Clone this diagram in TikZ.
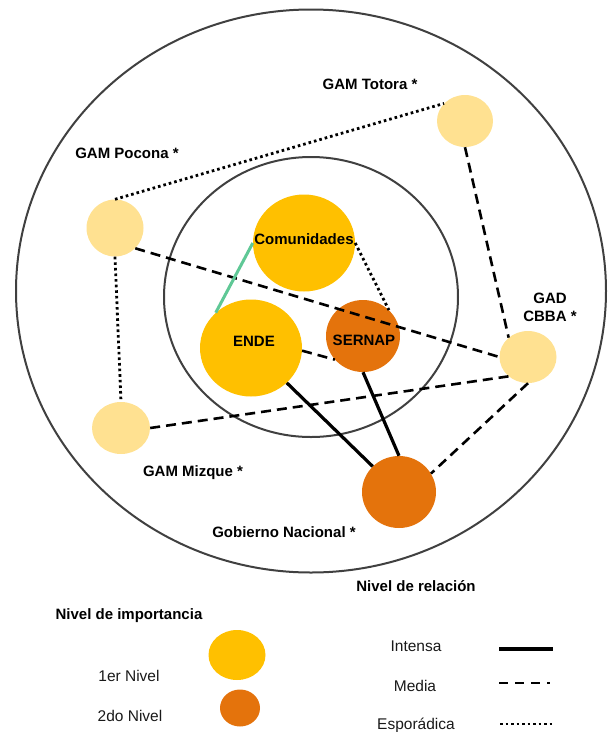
\documentclass[tikz,border=0pt]{standalone}
\usepackage{fontspec}
\setmainfont{Liberation Sans}
\usetikzlibrary{shapes.geometric}
\definecolor{lvone}{RGB}{255,192,0}
\definecolor{lvtwo}{RGB}{228,115,12}
\definecolor{lvthree}{RGB}{255,225,145}
\definecolor{ringc}{RGB}{64,64,64}
\definecolor{greenc}{RGB}{95,200,150}
\tikzset{
  actor/.style={ellipse, draw=none, inner sep=0pt},
  first/.style={actor, fill=lvone},
  second/.style={actor, fill=lvtwo},
  third/.style={actor, fill=lvthree},
  ring/.style={ellipse, draw=ringc, line width=2pt, inner sep=0pt},
  lbl/.style={font=\bfseries\fontsize{15}{18}\selectfont, inner sep=0pt, align=center, text=black},
  leg/.style={font=\fontsize{15.5}{18}\selectfont, inner sep=0pt, text=black!90},
  strong/.style={line width=3.2pt, black},
  mid/.style={line width=2.6pt, black, dash pattern=on 10pt off 6pt},
  spor/.style={line width=2.8pt, black, dash pattern=on 2.6pt off 3pt},
}
\begin{document}
\begin{tikzpicture}[x=1pt,y=-1pt]
\useasboundingbox (0,0) rectangle (613,732);
% rings
\node[ring, minimum width=590pt, minimum height=563pt] (outer) at (311,291) {};
\node[ring, minimum width=294pt, minimum height=280pt] (inner) at (311,297) {};
% actors
\node[third, minimum width=56pt, minimum height=52pt] (totora) at (465,121) {};
\node[third, minimum width=57pt, minimum height=57pt] (pocona) at (115,228) {};
\node[third, minimum width=57pt, minimum height=52pt] (gad) at (528,357) {};
\node[third, minimum width=58pt, minimum height=52pt] (mizque) at (121,428) {};
\node[first, minimum width=102pt, minimum height=97pt] (com) at (304,243) {};
\node[first, minimum width=102pt, minimum height=97pt] (ende) at (251,348) {};
\node[second, minimum width=74pt, minimum height=72pt] (sernap) at (363,336) {};
\node[second, minimum width=74pt, minimum height=72pt] (gob) at (399,492) {};
% connectors
\draw[spor] (pocona.north) -- (totora.140);
\draw[mid] (totora.south) -- (gad.135);
\draw[mid] (pocona.-45) -- (gad.west);
\draw[spor] (pocona.south) -- (mizque.north);
\draw[mid] (mizque.east) -- (gad.-135);
\draw[mid] (gad.south) -- (gob.30);
\draw[strong] (ende) -- (gob);
\draw[strong] (sernap.south) -- (gob.north);
\draw[mid] (ende.-3) -- (sernap.220);
\draw[spor] (com.east) -- (sernap.45);
\draw[line width=3pt, greenc] (com.west) -- (ende.135);
% labels
\node[lbl] (comlbl) at (304,239) {Comunidades};
\node[lbl] (endelbl) at (254,341) {ENDE};
\node[lbl] (sernaplbl) at (364,340) {SERNAP};
\node[lbl] (totoralbl) at (370,84) {GAM Totora *};
\node[lbl] (poconalbl) at (127,153) {GAM Pocona *};
\node[lbl] (gadlbl) at (550,307) {GAD\\CBBA *};
\node[lbl] (mizquelbl) at (193,473) {GAM Mizque *};
\node[lbl] (goblbl) at (284,532) {Gobierno Nacional *};
% legend
\node[lbl] (relhead) at (416,586) {Nivel de relación};
\node[lbl] (imphead) at (129,616) {Nivel de importancia};
\node[first, minimum width=57pt, minimum height=50pt] (legone) at (237,655) {};
\node[second, minimum width=40pt, minimum height=37pt] (legtwo) at (240,708) {};
\node[leg] (onelbl) at (129,676) {1er Nivel};
\node[leg] (twolbl) at (130,716) {2do Nivel};
\node[leg] (intlbl) at (416,646) {Intensa};
\node[leg] (medlbl) at (415,686) {Media};
\node[leg] (esplbl) at (416,725) {Esporádica};
\coordinate (ia) at (499,649); \coordinate (ib) at (553,649);
\coordinate (ma) at (499,683); \coordinate (mb) at (550,683);
\coordinate (ea) at (500,724); \coordinate (eb) at (553,724);
\draw[line width=3.5pt] (ia) -- (ib);
\draw[line width=2.6pt, dash pattern=on 9pt off 7pt] (ma) -- (mb);
\draw[line width=2.6pt, dash pattern=on 2.5pt off 3pt] (ea) -- (eb);
\end{tikzpicture}
\end{document}
